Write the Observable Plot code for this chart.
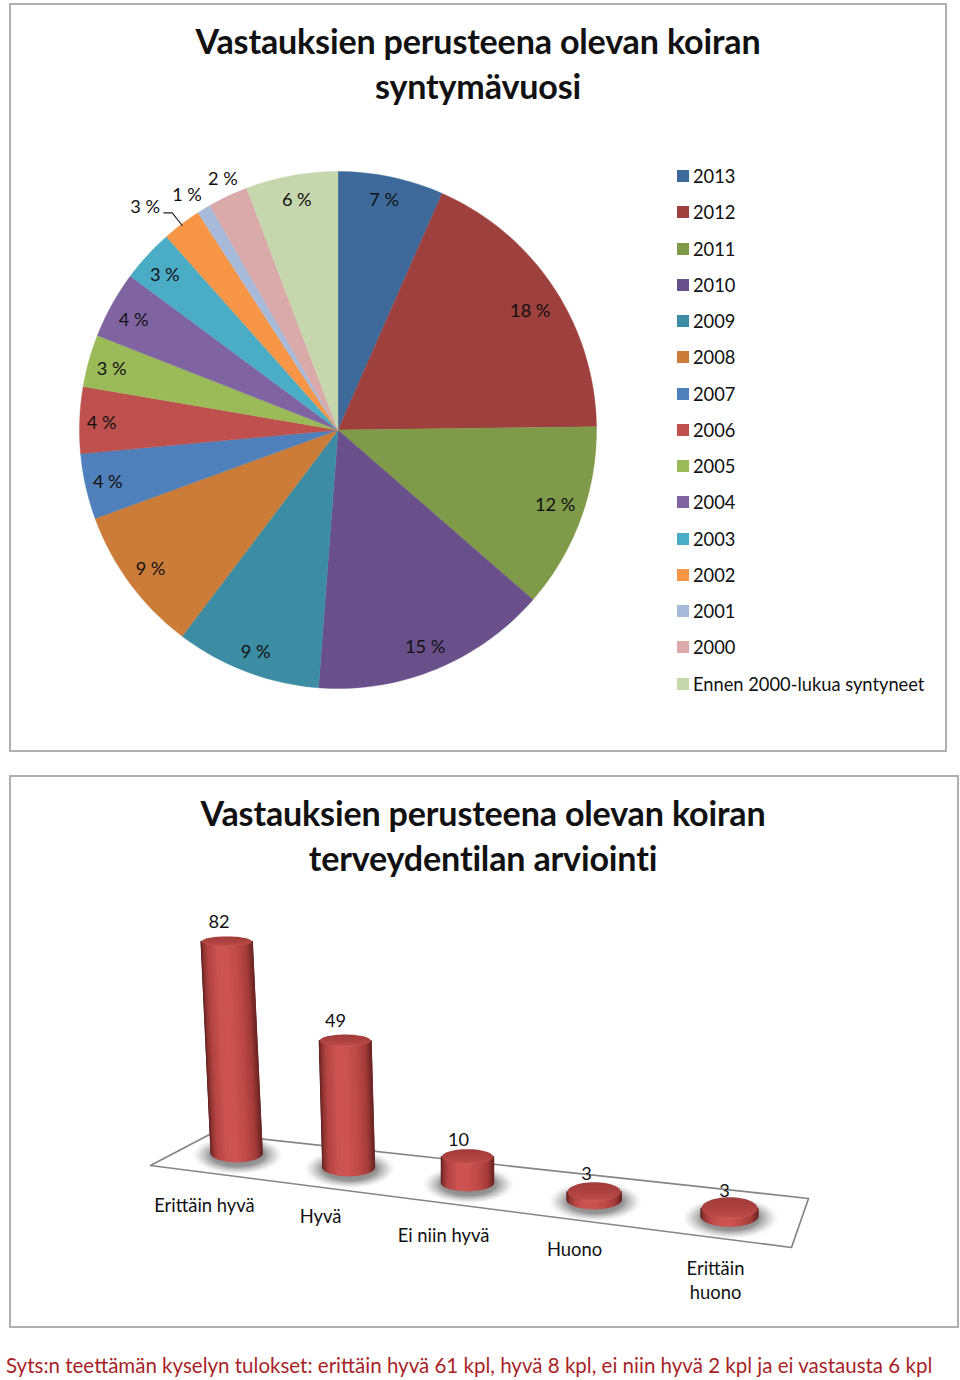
<!DOCTYPE html>
<html lang="fi"><head><meta charset="utf-8">
<script src="https://cdn.jsdelivr.net/npm/d3@7"></script>
<script src="https://cdn.jsdelivr.net/npm/@observablehq/plot@0.6"></script>
<style>
html,body{margin:0;padding:0;background:#fff}
#page{position:relative;width:960px;height:1380px;overflow:hidden;font-family:Lato,"Open Sans",sans-serif;color:#111}
.box{position:absolute;box-sizing:border-box;border:2px solid #b0b0b0;background:#fff}
.title{position:absolute;text-align:center;font-weight:700;font-size:34.1px;line-height:44.5px;white-space:nowrap;letter-spacing:-.17px;color:#111}
#legend{position:absolute;left:677px;top:158px;font-size:18.3px}
#legend div{height:36.26px;display:flex;align-items:center;white-space:nowrap}
#legend i{display:block;width:12px;height:12px;margin-right:4px}
#caption{position:absolute;left:6px;top:1350px;font-size:20.53px;line-height:30px;color:#a81f28;white-space:nowrap}
svg{position:absolute;overflow:visible;background:transparent}
</style></head>
<body><div id="page">
<div class="box" style="left:9px;top:3px;width:938px;height:749px"></div>
<div class="box" style="left:9px;top:775px;width:950px;height:553px"></div>
<div class="title" style="left:9px;width:938px;top:19px">Vastauksien perusteena olevan koiran<br>syntymävuosi</div>
<div class="title" style="left:9px;width:948px;top:791px">Vastauksien perusteena olevan koiran<br>terveydentilan arviointi</div>
<div id="legend"></div>
<div id="caption">Syts:n teettämän kyselyn tulokset: erittäin hyvä 61 kpl, hyvä 8 kpl, ei niin hyvä 2 kpl ja ei vastausta 6 kpl</div>
</div>
<script>
// ---------- pie data ----------
const years = ["2013","2012","2011","2010","2009","2008","2007","2006","2005","2004","2003","2002","2001","2000","Ennen 2000-lukua syntyneet"];
const shares = [6.6,18.2,11.6,14.8,9.1,9.14,4.1,4.15,3.26,4.2,3.3,2.44,0.86,2.5,5.75];
const shareLabels = ["7 %","18 %","12 %","15 %","9 %","9 %","4 %","4 %","3 %","4 %","3 %","3 %","1 %","2 %","6 %"];
const yearColors = ["#3E6A9B","#9E403D","#7F9A48","#69508A","#3C8CA3","#CB7C38","#4F80BC","#BE504D","#9BBB59","#8064A2","#4BACC6","#F79646","#A8BAD9","#D9AAA9","#C6D6AD"];
// ---------- bar data ----------
const ratings = ["Erittäin hyvä","Hyvä","Ei niin hyvä","Huono","Erittäin\nhuono"];
const counts = [82,49,10,3,3];

// ---------- layout helpers (not data) ----------
const labelRadius = [.905,.875,.889,.906,.917,.903,.913,.915,.906,.898,.900,1.14,1.081,1.066,.905];
const labelTurn = [-.5,1.7,-1.1,.5,-.4,-.1,-.1,-.5,-.6,-.7,-.6,-3.7,-1.45,.5,.2];
const pieC = {x:337.5, y:429.5, r:258.5};
const leaderPx = [[163.3,212.3],[171.7,212.3],[181.7,225]];

const rad = d => d * Math.PI / 180;
const total = d3.sum(shares);
let acc = 0;
const slices = years.map((year,i) => {
  const a0 = acc / total * 360; acc += shares[i]; const a1 = acc / total * 360;
  return {year, i, a0, a1, mid:(a0+a1)/2};
});
const piePts = slices.flatMap(s => {
  const n = Math.max(2, Math.ceil((s.a1-s.a0)/1.5));
  const rim = d3.range(n+1).map(k => {
    const a = rad(s.a0 + (s.a1-s.a0)*k/n);
    return {year:s.year, x:Math.sin(a), y:Math.cos(a)};
  });
  return [{year:s.year,x:0,y:0}, ...rim, {year:s.year,x:0,y:0}];
});
const pieLabels = slices.map(s => {
  const a = rad(s.mid + labelTurn[s.i]), r = labelRadius[s.i];
  return {t:shareLabels[s.i], x:r*Math.sin(a), y:r*Math.cos(a)};
});
const leader = leaderPx.map(([x,y]) => ({x:(x-pieC.x)/pieC.r, y:(pieC.y-y)/pieC.r}));

const page = document.getElementById("page");
const pie = Plot.plot({
  width:pieC.r*2, height:pieC.r*2, margin:0,
  x:{domain:[-1,1], axis:null}, y:{domain:[-1,1], axis:null},
  color:{domain:years, range:yearColors},
  marks:[
    Plot.line(piePts,{x:"x",y:"y",z:"year",fill:"year",stroke:"year",strokeWidth:.4}),
    Plot.line(leader,{x:"x",y:"y",stroke:"#222",strokeWidth:1.2}),
    Plot.text(pieLabels,{x:"x",y:"y",text:"t",fontSize:18.2,fontFamily:"Lato",fill:"#111"})
  ]
});
pie.style.left = (pieC.x-pieC.r)+"px"; pie.style.top = (pieC.y-pieC.r)+"px";
page.appendChild(pie);

const legend = document.getElementById("legend");
years.forEach((y,i) => {
  const row = document.createElement("div");
  const sw = document.createElement("i"); sw.style.background = yearColors[i];
  const tx = document.createElement("span"); tx.textContent = y;
  row.append(sw,tx); legend.appendChild(row);
});

// ---------- 3D bars ----------
const unit = 2.58;                // pixels per answer on the value axis
const barTop = 770, barH = 570;
const lift = py => (barTop + barH - py) / unit;
const shapes = [
  {baseX:236.2, baseY:1152.5, tilt:-10,  rx:25.5, ryT:5,   ryB:8.5, valX:218.5, valY:922,  catX:204, catY:1204},
  {baseX:348.2, baseY:1166.5, tilt:-3.5, rx:25.8, ryT:6,   ryB:8.5, valX:335,   valY:1021, catX:320, catY:1215},
  {baseX:467,   baseY:1182,   tilt:0,    rx:26,   ryT:7.5, ryB:8,   valX:458,   valY:1140, catX:443, catY:1234},
  {baseX:593.7, baseY:1199,   tilt:0,    rx:27,   ryT:9.5, ryB:9,   valX:586,   valY:1174, catX:574, catY:1248},
  {baseX:729,   baseY:1215.5, tilt:0,    rx:28.3, ryT:11,  ryB:10,  valX:724,   valY:1191, catX:715, catY:1279}
];
const floorPx = [[150,1165],[211,1133],[808,1198],[791,1247],[150,1165]];
const floor = floorPx.map(([x,y]) => ({x, v:lift(y)}));

const shade = d3.scaleLinear()
  .domain([0,.05,.14,.32,.5,.72,.9,1])
  .range(["#5e2120","#8e3331","#b24442","#cb5351","#cd5452","#be4a48","#a23b39","#6f2725"]);
const strips = [], caps = [], shadows = [];
shapes.forEach((s,b) => {
  const topV = lift(s.baseY) + counts[b], baseV = lift(s.baseY), topX = s.baseX + s.tilt, N = 30;
  d3.range(N).forEach(i => {
    const t1 = Math.PI*(1-i/N), t2 = Math.PI*(1-(i+1)/N), id = `${b}-${i}`;
    const tt = (i+.5)/N, col = shade(.5 - Math.cos(Math.PI*tt)/2);
    [[topX,topV,s.ryT,t1],[topX,topV,s.ryT,t2],[s.baseX,baseV,s.ryB,t2],[s.baseX,baseV,s.ryB,t1],[topX,topV,s.ryT,t1]]
      .forEach(([cx,cv,ry,th]) => strips.push({id, col, x:cx+s.rx*Math.cos(th), v:cv-ry*Math.sin(th)/unit}));
  });
  d3.range(61).forEach(k => {
    const th = k/60*2*Math.PI;
    caps.push({b, x:topX+(s.rx-.4)*Math.cos(th), v:topV-s.ryT*Math.sin(th)/unit});
    shadows.push({b, x:s.baseX+1+(s.rx+20)*Math.cos(th), v:baseV-(2+(s.ryB+11)*Math.sin(th))/unit});
  });
});
const valLabels = shapes.map((s,b) => ({t:String(counts[b]), x:s.valX, v:lift(s.valY)}));
const catLabels = shapes.map((s,b) => ({t:ratings[b], x:s.catX, v:lift(s.catY)}));

const defs = () => {
  const d = d3.create("svg:defs");
  const sh = d.append("radialGradient").attr("id","barShadow");
  [[0,"#666666",.9],[.6,"#747474",.75],[.8,"#9c9c9c",.42],[1,"#cccccc",0]].forEach(([o,c,a]) =>
    sh.append("stop").attr("offset",o).attr("stop-color",c).attr("stop-opacity",a));
  const cap = d.append("linearGradient").attr("id","barCap").attr("x1",0).attr("y1",0).attr("x2",0).attr("y2",1);
  [[0,"#a03c3a"],[.6,"#b04341"],[.88,"#bc4a48"],[1,"#d0625f"]].forEach(([o,c]) =>
    cap.append("stop").attr("offset",o).attr("stop-color",c));
  return d.node();
};

const bars = Plot.plot({
  width:960, height:barH, margin:0,
  x:{domain:[0,960], axis:null}, y:{domain:[0,barH/unit], axis:null},
  color:{type:"identity"},
  marks:[
    defs,
    Plot.line(floor,{x:"x",y:"v",stroke:"#858585",strokeWidth:1.7,fill:"#fff"}),
    Plot.line(shadows,{x:"x",y:"v",z:"b",fill:"url(#barShadow)",stroke:"none"}),
    Plot.line(strips,{x:"x",y:"v",z:"id",fill:"col",stroke:"col",strokeWidth:1.4}),
    Plot.line(caps,{x:"x",y:"v",z:"b",fill:"url(#barCap)",stroke:"none"}),
    Plot.text(valLabels,{x:"x",y:"v",text:"t",fontSize:18.2,fontFamily:"Lato",fill:"#111"}),
    Plot.text(catLabels,{x:"x",y:"v",text:"t",fontSize:18.4,fontFamily:"Lato",fill:"#111",lineHeight:1.32})
  ]
});
bars.style.left = "0px"; bars.style.top = barTop+"px";
page.appendChild(bars);
</script>
</body></html>
